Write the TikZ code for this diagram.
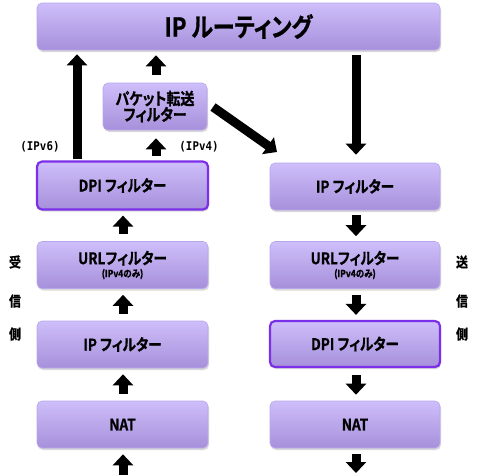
\documentclass[tikz,border=0pt]{standalone}
\usepackage{fontspec}
\usetikzlibrary{arrows.meta,shadows}
\newfontfamily\jp[FakeStretch=0.85,RawFeature=+palt,BoldFont={Noto Sans CJK JP Bold},BoldFeatures={FakeBold=0.8}]{Noto Sans CJK JP}
\newfontfamily\jpmono[FakeStretch=0.9]{DejaVu Sans Mono}
\definecolor{boxtop}{HTML}{CEBEFA}
\definecolor{boxbot}{HTML}{A690DB}
\definecolor{boxline}{HTML}{B8A6EC}
\definecolor{dpiline}{HTML}{7B2FE8}
\tikzset{
  box/.style={rounded corners=5pt, top color=boxtop, bottom color=boxbot,
    draw=boxline, line width=0.6pt, align=center, inner sep=0pt,
    font=\jp\bfseries\fontsize{16}{17}\selectfont,
    drop shadow={shadow xshift=1pt, shadow yshift=-2pt, opacity=0.3}},
  colL/.style={box, minimum width=171pt, minimum height=47pt},
  colR/.style={box, minimum width=170pt, minimum height=47pt},
  dpibox/.style={draw=dpiline, line width=2.2pt},
  arr/.style={line width=9pt, -{Triangle[length=11pt,width=20pt]}},
  side/.style={font=\jp\bfseries\fontsize{14}{14}\selectfont},
  verlbl/.style={font=\jpmono\bfseries\fontsize{12}{12}\selectfont},
}
\newcommand{\vfoursub}{{\fontsize{10}{11}\selectfont (IPv4のみ)\hspace{12pt}}}
\begin{document}
\begin{tikzpicture}[x=1pt,y=-1pt]
\useasboundingbox (0,0) rectangle (478,475);
% boxes
\node[box, minimum width=403pt, minimum height=47pt, font=\jp\bfseries\fontsize{26}{27}\selectfont] (top) at (238.5,26.5) {IP ルーティング};
\node[box, minimum width=104pt, minimum height=47pt, font=\jp\bfseries\fontsize{16.5}{16}\selectfont] (pkt) at (155,106.5) {パケット転送\\フィルター};
\node[colL, dpibox, minimum height=48pt] (dpiL) at (122.5,185.5) {DPI フィルター};
\node[colL] (urlL) at (122.5,265) {URLフィルター\\[-4pt]\vfoursub};
\node[colL] (ipL) at (122.5,344.5) {IP フィルター};
\node[colL] (natL) at (122.5,424.5) {NAT};
\node[colR] (ipR) at (355,186.5) {IP フィルター};
\node[colR] (urlR) at (355,265) {URLフィルター\\[-4pt]\vfoursub};
\node[colR, dpibox, minimum height=46pt] (dpiR) at (355,344) {DPI フィルター};
\node[colR] (natR) at (355,424.5) {NAT};
% labels
\node[verlbl] (v6) at (40,147) {(IPv6)};
\node[verlbl] (v4) at (199,147) {(IPv4)};
\node[side] (r1) at (15,262) {受};
\node[side] (r2) at (15,301) {信};
\node[side] (r3) at (15,334) {側};
\node[side] (s1) at (462,262) {送};
\node[side] (s2) at (462,301) {信};
\node[side] (s3) at (462,334) {側};
% coordinates
\coordinate (x6) at (77,0);
\coordinate (xp) at (156,0);
\coordinate (xL) at (123,0);
\coordinate (xR) at (356,0);
\coordinate (dA) at (213,107);
\coordinate (dB) at (277,152);
\coordinate (inL) at (123,475);
\coordinate (outR) at (356,473);
% arrows
\draw[arr, shorten <=1pt, shorten >=4pt] (dpiL.north -| x6) -- (top.south -| x6);
\draw[arr, shorten <=8pt, shorten >=5pt] (pkt.north -| xp) -- (top.south -| xp);
\draw[arr, shorten <=4pt, shorten >=8pt] (dpiL.north -| xp) -- (pkt.south -| xp);
\draw[arr] (dA) -- (dB);
\draw[arr, shorten <=5pt, shorten >=8pt] (top.south -| xR) -- (ipR.north -| xR);
\draw[arr, shorten <=7pt, shorten >=5pt] (urlL.north -| xL) -- (dpiL.south -| xL);
\draw[arr, shorten <=7pt, shorten >=6pt] (ipL.north -| xL) -- (urlL.south -| xL);
\draw[arr, shorten <=7pt, shorten >=6pt] (natL.north -| xL) -- (ipL.south -| xL);
\draw[arr, shorten >=6pt] (inL) -- (natL.south -| xL);
\draw[arr, shorten <=5pt, shorten >=5pt] (ipR.south -| xR) -- (urlR.north -| xR);
\draw[arr, shorten <=6pt, shorten >=5pt] (urlR.south -| xR) -- (dpiR.north -| xR);
\draw[arr, shorten <=7pt, shorten >=6pt] (dpiR.south -| xR) -- (natR.north -| xR);
\draw[arr, shorten <=6pt] (natR.south -| xR) -- (outR);
\end{tikzpicture}
\end{document}
